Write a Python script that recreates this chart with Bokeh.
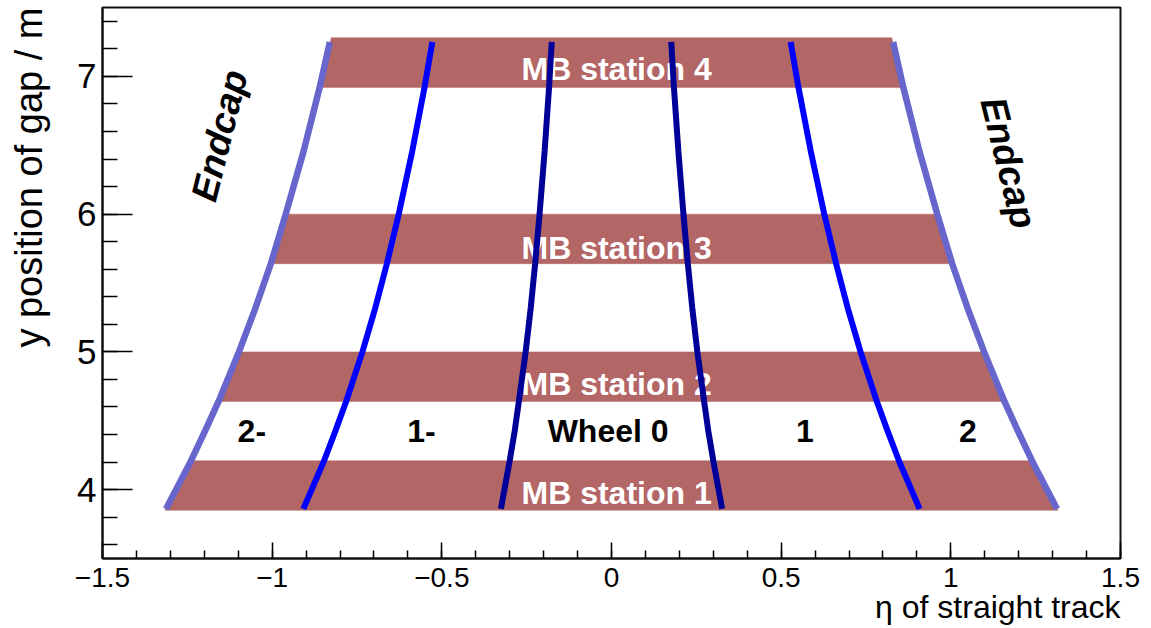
import math
from bokeh.plotting import figure
from bokeh.models import Range1d, FixedTicker, Title
from bokeh.core.properties import value
from bokeh.embed import file_html
from bokeh.resources import INLINE

FONT = "Liberation Sans"

# ---- data ----
station_names = ["MB station 1", "MB station 2", "MB station 3", "MB station 4"]
station_y_lo = [3.85, 4.64, 5.64, 6.92]
station_y_hi = [4.21, 5.00, 6.00, 7.28]
station_eta_lo = [1.316, 1.158, 1.004, 0.860]   # half-width (eta) at lower edge
station_eta_hi = [1.239, 1.098, 0.960, 0.826]   # half-width (eta) at upper edge
station_text_x = [0.015, 0.015, 0.015, 0.015]
station_text_y = [3.973, 4.77, 5.755, 7.05]

curve_y = [3.86, 4.21, 4.43, 4.64, 5.00, 5.32, 5.64, 6.00, 6.46, 6.92, 7.25]
endcap_eta = [1.313, 1.239, 1.197, 1.158, 1.098, 1.049, 1.004, 0.960, 0.907, 0.860, 0.830]
wheel12_eta = [0.908, 0.847, 0.813, 0.782, 0.734, 0.696, 0.662, 0.627, 0.587, 0.551, 0.528]
wheel01_eta = [0.326, 0.300, 0.285, 0.273, 0.253, 0.238, 0.225, 0.212, 0.197, 0.184, 0.176]

wheel_labels = ["2-", "1-", "Wheel 0", "1", "2"]
wheel_label_x = [-1.06, -0.56, -0.01, 0.57, 1.05]
wheel_label_y = [4.426, 4.426, 4.426, 4.426, 4.426]

endcap_labels = ["Endcap", "Endcap"]
endcap_label_x = [-1.155, 1.170]
endcap_label_y = [6.57, 6.373]
endcap_label_angle = [76, -76]

x_ticks = [-1.5, -1.0, -0.5, 0.0, 0.5, 1.0, 1.5]
x_tick_labels = ["\u22121.5", "\u22121", "\u22120.5", "0", "0.5", "1", "1.5"]
x_minor = [round(-1.5 + 0.1 * i, 2) for i in range(31)]
y_ticks = [4, 5, 6, 7]
y_tick_labels = ["4", "5", "6", "7"]
y_minor = [round(3.6 + 0.2 * i, 2) for i in range(20)]

x_title = "\u03b7 of straight track"
y_title = "y position of gap / m"

# ---- figure ----
p = figure(width=1151, height=628, x_range=Range1d(-1.5, 1.5), y_range=Range1d(3.5, 7.5),
           output_backend="svg", toolbar_location=None,
           min_border_left=102, min_border_right=31, min_border_top=7, min_border_bottom=70)
p.background_fill_color = "white"
p.border_fill_color = "white"
p.xgrid.visible = False
p.ygrid.visible = False
p.outline_line_color = "#111111"
p.outline_line_width = 2

# bands
band_xs = [[-lo, lo, hi, -hi] for lo, hi in zip(station_eta_lo, station_eta_hi)]
band_ys = [[a, a, b, b] for a, b in zip(station_y_lo, station_y_hi)]
p.patches(band_xs, band_ys, fill_color="#B36666", line_color="#B36666", line_width=0.5)

p.text(x=station_text_x, y=station_text_y, text=station_names, text_color="white",
       text_font=value(FONT), text_font_size="32px", text_font_style="bold",
       text_align="center", text_baseline="alphabetic")

# curves
for eta, col, w in [(endcap_eta, "#6666CC", 6.5), (wheel12_eta, "#0000FF", 6), (wheel01_eta, "#000099", 6)]:
    p.line([-e for e in eta], curve_y, line_color=col, line_width=w)
    p.line(eta, curve_y, line_color=col, line_width=w)

p.text(x=wheel_label_x, y=wheel_label_y, text=wheel_labels, text_color="black",
       text_font=value(FONT), text_font_size="32px", text_font_style="bold",
       text_align="center", text_baseline="alphabetic")

p.text(x=endcap_label_x, y=endcap_label_y, text=endcap_labels, angle=endcap_label_angle,
       angle_units="deg", text_color="black", text_font=value(FONT), text_font_size="37px",
       text_font_style="bold italic", text_align="center", text_baseline="middle")

# axes
xa = p.xaxis[0]
xa.ticker = FixedTicker(ticks=x_ticks, minor_ticks=x_minor)
xa.major_label_overrides = {t: l for t, l in zip(x_ticks, x_tick_labels)}
xa.major_tick_in = 16
xa.major_tick_out = 0
xa.minor_tick_in = 8
xa.minor_tick_out = 0
xa.major_label_standoff = 9
xa.major_label_text_font = FONT
xa.major_label_text_font_size = "28px"
xa.major_label_text_color = "black"
xa.axis_line_width = 2
xa.axis_line_color = "#111111"
xa.major_tick_line_width = 1.5
xa.minor_tick_line_width = 1.5

ya = p.yaxis[0]
ya.ticker = FixedTicker(ticks=y_ticks, minor_ticks=y_minor)
ya.major_label_overrides = {t: l for t, l in zip(y_ticks, y_tick_labels)}
ya.major_tick_in = 30
ya.major_tick_out = 0
ya.minor_tick_in = 15
ya.minor_tick_out = 0
ya.major_label_standoff = 6
ya.major_label_text_font = FONT
ya.major_label_text_font_size = "35px"
ya.major_label_text_color = "black"
ya.axis_line_width = 2
ya.axis_line_color = "#111111"
ya.major_tick_line_width = 1.5
ya.minor_tick_line_width = 1.5

# axis titles (ROOT style: aligned to the end of each axis)
p.add_layout(Title(text=x_title, align="right", text_font=FONT, text_font_size="32px",
                   text_font_style="normal", text_color="black", standoff=-6), "below")
# thin spacer between the y tick labels and the y title
p.add_layout(Title(text=" ", text_font=FONT, text_font_size="1px", text_color="white",
                   standoff=22), "left")
p.add_layout(Title(text=y_title, align="right", text_font=FONT, text_font_size="38px",
                   text_font_style="normal", text_color="black", standoff=0), "left")

open("out.html", "w").write(file_html(p, INLINE))
